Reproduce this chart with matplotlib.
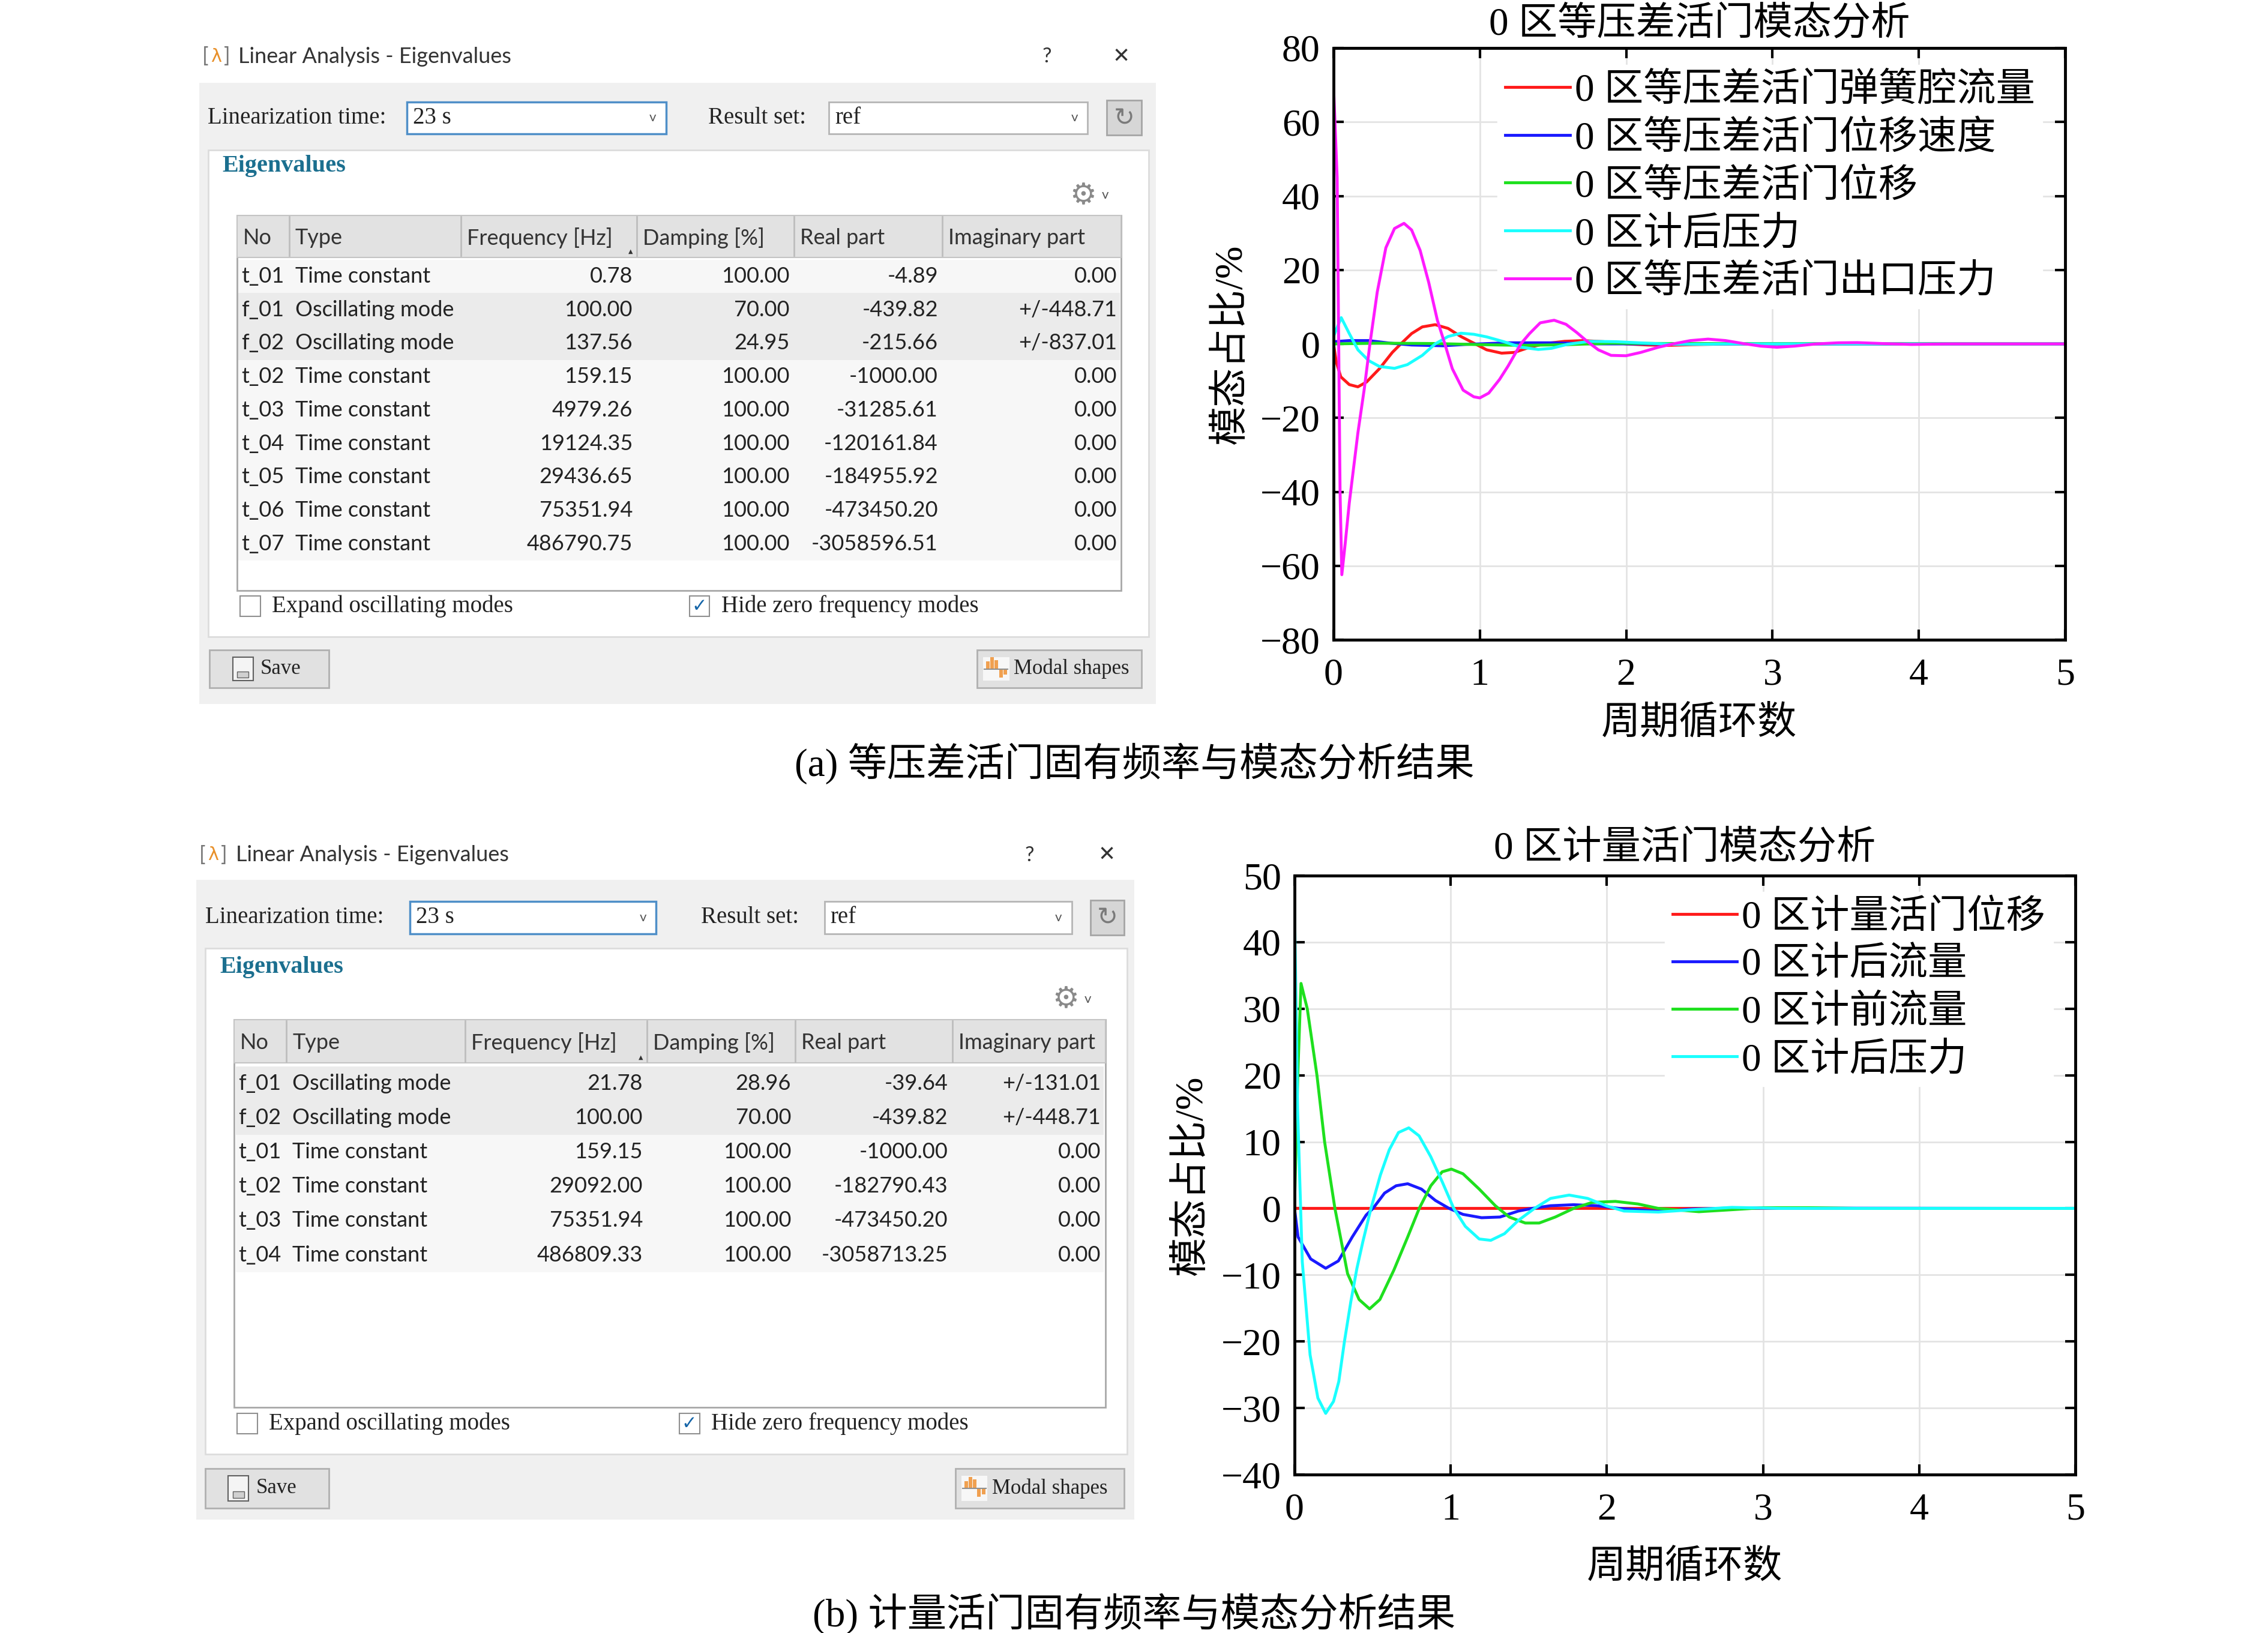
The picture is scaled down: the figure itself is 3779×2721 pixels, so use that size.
import matplotlib
matplotlib.use('Agg')
import matplotlib.pyplot as plt
from matplotlib.patches import Rectangle

plt.rcParams['font.family'] = ['Liberation Serif', 'Noto Sans CJK SC']
plt.rcParams['axes.unicode_minus'] = True

UI = ['Lato', 'DejaVu Sans']
UI_SERIF = ['Liberation Serif', 'DejaVu Serif']
SYM = ['DejaVu Sans']

# ---------------- eigenvalue tables (dialog screenshots) ----------------
table_header = ['No', 'Type', 'Frequency [Hz]', 'Damping [%]', 'Real part', 'Imaginary part']

rows_a = [
    ['t_01', 'Time constant', '0.78', '100.00', '-4.89', '0.00'],
    ['f_01', 'Oscillating mode', '100.00', '70.00', '-439.82', '+/-448.71'],
    ['f_02', 'Oscillating mode', '137.56', '24.95', '-215.66', '+/-837.01'],
    ['t_02', 'Time constant', '159.15', '100.00', '-1000.00', '0.00'],
    ['t_03', 'Time constant', '4979.26', '100.00', '-31285.61', '0.00'],
    ['t_04', 'Time constant', '19124.35', '100.00', '-120161.84', '0.00'],
    ['t_05', 'Time constant', '29436.65', '100.00', '-184955.92', '0.00'],
    ['t_06', 'Time constant', '75351.94', '100.00', '-473450.20', '0.00'],
    ['t_07', 'Time constant', '486790.75', '100.00', '-3058596.51', '0.00'],
]

rows_b = [
    ['f_01', 'Oscillating mode', '21.78', '28.96', '-39.64', '+/-131.01'],
    ['f_02', 'Oscillating mode', '100.00', '70.00', '-439.82', '+/-448.71'],
    ['t_01', 'Time constant', '159.15', '100.00', '-1000.00', '0.00'],
    ['t_02', 'Time constant', '29092.00', '100.00', '-182790.43', '0.00'],
    ['t_03', 'Time constant', '75351.94', '100.00', '-473450.20', '0.00'],
    ['t_04', 'Time constant', '486809.33', '100.00', '-3058713.25', '0.00'],
]

# ---------------- modal participation curves ----------------
# (a) 等压差活门
a_spring_flow_x = [0.0, 0.02, 0.05, 0.108, 0.167, 0.226, 0.314, 0.402, 0.46, 0.534, 0.607, 0.695,
                   0.783, 0.871, 0.959, 1.047, 1.149, 1.237, 1.34, 1.45, 1.58, 1.707, 1.85, 2.0,
                   2.15, 2.28, 2.45, 2.7, 5.0]
a_spring_flow_y = [0.0, -5.0, -8.9, -11.0, -11.6, -10.3, -6.7, -2.3, 0.0, 2.8, 4.6, 5.2,
                   4.2, 2.0, 0.2, -1.6, -2.5, -2.3, -0.9, 0.1, 0.7, 0.9, 0.6, 0.0,
                   -0.3, -0.4, -0.2, 0.0, 0.0]

a_velocity_x = [0.0, 0.108, 0.24, 0.387, 0.534, 0.75, 0.9, 1.19, 1.49, 1.8, 5.0]
a_velocity_y = [0.6, 0.9, 0.9, 0.2, -0.3, -0.5, -0.15, 0.3, 0.3, 0.0, 0.0]

a_disp_x = [0.0, 0.3, 0.7, 1.0, 1.3, 1.6, 1.9, 2.3, 5.0]
a_disp_y = [0.0, 0.2, 0.1, -0.2, -0.4, -0.2, 0.2, 0.1, 0.0]

a_back_press_x = [0.0, 0.053, 0.108, 0.167, 0.24, 0.314, 0.417, 0.505, 0.607, 0.695, 0.783, 0.871,
                  0.959, 1.047, 1.164, 1.28, 1.4, 1.49, 1.6, 1.75, 1.93, 2.14, 2.32, 2.5, 2.7, 5.0]
a_back_press_y = [2.0, 7.1, 2.8, -1.6, -4.5, -6.1, -6.6, -5.6, -3.1, 0.0, 2.0, 2.9,
                  2.6, 1.9, 0.6, -0.9, -1.5, -1.2, -0.1, 0.7, 0.6, 0.2, -0.1, -0.1, 0.0, 0.0]

a_outlet_press_x = [0.0, 0.025, 0.045, 0.057, 0.08, 0.108, 0.167, 0.211, 0.249, 0.299, 0.358, 0.417,
                    0.482, 0.534, 0.592, 0.651, 0.71, 0.761, 0.812, 0.886, 0.959, 1.0, 1.061, 1.135,
                    1.193, 1.28, 1.34, 1.413, 1.508, 1.589, 1.662, 1.736, 1.81, 1.897, 2.0, 2.1,
                    2.22, 2.32, 2.44, 2.56, 2.68, 2.80, 2.92, 3.03, 3.15, 3.30, 3.45, 3.58, 3.75,
                    3.95, 4.20, 5.0]
a_outlet_press_y = [70.0, 45.0, -40.0, -62.4, -54.0, -43.0, -24.0, -12.0, 0.0, 14.0, 26.0, 31.2,
                    32.6, 30.8, 25.3, 16.6, 6.4, 0.0, -6.7, -12.5, -14.3, -14.6, -13.3, -9.6,
                    -6.0, 0.0, 2.8, 5.7, 6.4, 5.3, 3.1, 0.6, -1.6, -3.1, -3.2, -2.3,
                    -0.9, 0.0, 0.9, 1.3, 0.9, 0.1, -0.6, -0.9, -0.6, 0.0, 0.3, 0.35, 0.1,
                    -0.15, 0.0, 0.0]

a_labels = ['0 区等压差活门弹簧腔流量', '0 区等压差活门位移速度', '0 区等压差活门位移',
            '0 区计后压力', '0 区等压差活门出口压力']

# (b) 计量活门
b_disp_x = [0.0, 5.0]
b_disp_y = [0.0, 0.0]

b_back_flow_x = [0.0, 0.023, 0.104, 0.2, 0.281, 0.37, 0.459, 0.503, 0.577, 0.651, 0.725, 0.813,
                 0.902, 0.99, 1.079, 1.198, 1.316, 1.434, 1.522, 1.64, 1.788, 1.936, 2.08, 2.33,
                 2.55, 2.8, 5.0]
b_back_flow_y = [0.0, -4.3, -7.6, -9.0, -7.9, -4.3, -1.0, 0.0, 2.3, 3.4, 3.7, 2.9,
                 1.2, 0.0, -0.9, -1.4, -1.3, -0.4, 0.0, 0.4, 0.55, 0.4, 0.0, -0.45,
                 -0.1, 0.05, 0.0]

b_front_flow_x = [0.0, 0.022, 0.042, 0.082, 0.144, 0.193, 0.259, 0.34, 0.414, 0.481, 0.547, 0.636,
                  0.725, 0.799, 0.873, 0.946, 1.005, 1.079, 1.183, 1.286, 1.375, 1.478, 1.567,
                  1.67, 1.788, 1.906, 2.055, 2.2, 2.33, 2.59, 2.8, 3.0, 3.3, 3.6, 5.0]
b_front_flow_y = [0.0, 20.5, 33.8, 30.0, 20.0, 10.0, 0.0, -9.8, -13.7, -15.1, -13.7, -9.3,
                  -4.3, 0.0, 3.4, 5.5, 5.9, 5.2, 2.9, 0.4, -1.3, -2.2, -2.2,
                  -1.3, 0.0, 0.9, 1.05, 0.66, 0.0, -0.5, -0.2, 0.1, 0.1, 0.0, 0.0]

b_back_press_x = [0.0, 0.02, 0.05, 0.10, 0.15, 0.20, 0.25, 0.284, 0.32, 0.361, 0.40, 0.438, 0.49,
                  0.55, 0.607, 0.666, 0.732, 0.798, 0.872, 0.946, 1.02, 1.094, 1.183, 1.257,
                  1.345, 1.434, 1.537, 1.64, 1.759, 1.877, 1.995, 2.11, 2.33, 2.55, 2.8, 3.1, 5.0]
b_back_press_y = [46.0, 15.0, -8.0, -22.0, -28.5, -30.8, -29.0, -26.0, -20.0, -14.0, -9.0, -5.0, 0.0,
                  5.0, 8.8, 11.4, 12.1, 10.9, 7.8, 4.0, 0.0, -2.7, -4.6, -4.8,
                  -3.8, -1.8, 0.0, 1.5, 2.0, 1.5, 0.4, -0.4, -0.55, -0.2, 0.15, 0.0, 0.0]

b_labels = ['0 区计量活门位移', '0 区计后流量', '0 区计前流量', '0 区计后压力']

x_ticks = [0, 1, 2, 3, 4, 5]
a_yticks = [-80, -60, -40, -20, 0, 20, 40, 60, 80]
b_yticks = [-40, -30, -20, -10, 0, 10, 20, 30, 40, 50]

# dialog layouts, in screen units of a 1560 x 1123 canvas
dlg_a = dict(left=137, right=795, title_y=39, help_x=720, close_x=771, body=(57, 484),
             combo_y=81, lin_combo=(280, 458), res_x=487, res_combo=(570, 748), refresh=(761, 785),
             panel=(143, 103, 790, 438), eig_y=114, gear=(745, 134),
             cols=[163, 199, 317, 438, 546, 648, 771], table_y=(148, 406), header_h=29,
             row0=190, row_step=23, check_y=417, check1_x=165, check2_x=474,
             btn_y=(447, 473), save_btn=(144, 226), modal_btn=(672, 785))
dlg_b = dict(left=135, right=780, title_y=588, help_x=708, close_x=761, body=(605, 1045),
             combo_y=631, lin_combo=(282, 451), res_x=482, res_combo=(567, 737), refresh=(750, 773),
             panel=(141, 652, 775, 1000), eig_y=665, gear=(733, 687),
             cols=[161, 197, 320, 445, 547, 655, 760], table_y=(701, 968), header_h=30,
             row0=745, row_step=23.6, check_y=979, check1_x=163, check2_x=467,
             btn_y=(1010, 1037), save_btn=(141, 226), modal_btn=(657, 773))

TS = 26      # table text size
LS = 28      # serif label size
BS = 25      # button label size


def rect(ax, x0, y0, x1, y1, fc, ec='none', lw=1.0, z=1):
    p = Rectangle((x0, y0), x1 - x0, y1 - y0, facecolor=fc, edgecolor=ec, linewidth=lw, zorder=z)
    ax.add_patch(p)
    return p


def draw_dialog(ax, g, rows):
    L, R = g['left'], g['right']
    ty = g['title_y']
    ax.text(L + 2, ty, '[', color='#777777', fontsize=25, family=UI, va='center')
    ax.text(L + 8, ty, 'λ', color='#e8902a', fontsize=22, family=SYM, va='center')
    ax.text(L + 17, ty, ']', color='#777777', fontsize=25, family=UI, va='center')
    ax.text(L + 27, ty, 'Linear Analysis - Eigenvalues', color='#333333', fontsize=26,
            family=UI, va='center')
    ax.text(g['help_x'], ty, '?', color='#333333', fontsize=25, family=UI, ha='center', va='center')
    ax.text(g['close_x'], ty, '✕', color='#333333', fontsize=25, family=SYM, ha='center', va='center')

    rect(ax, L, g['body'][0], R, g['body'][1], '#f0f0f0', z=0.5)

    # combo row
    cy = g['combo_y']
    ax.text(L + 6, cy, 'Linearization time:', family=UI_SERIF, fontsize=LS, va='center', color='#222222')
    c0, c1 = g['lin_combo']
    rect(ax, c0, cy - 11, c1, cy + 11, 'white', '#4f8fc8', 2.5)
    ax.text(c0 + 4, cy, '23 s', family=UI_SERIF, fontsize=LS, va='center', color='#222222')
    ax.text(c1 - 9, cy, 'v', family=UI, fontsize=16, va='center', ha='center', color='#555555')
    ax.text(g['res_x'], cy, 'Result set:', family=UI_SERIF, fontsize=LS, va='center', color='#222222')
    r0, r1 = g['res_combo']
    rect(ax, r0, cy - 11, r1, cy + 11, 'white', '#b5b5b5', 2)
    ax.text(r0 + 4, cy, 'ref', family=UI_SERIF, fontsize=LS, va='center', color='#222222')
    ax.text(r1 - 9, cy, 'v', family=UI, fontsize=16, va='center', ha='center', color='#555555')
    f0, f1 = g['refresh']
    rect(ax, f0, cy - 12, f1, cy + 12, '#d6d6d6', '#a5a5a5', 2)
    ax.text((f0 + f1) / 2, cy, '↻', family=SYM, fontsize=30, color='#7a7a7a', ha='center', va='center')

    # white group panel
    px0, py0, px1, py1 = g['panel']
    rect(ax, px0, py0, px1, py1, 'white', '#dcdcdc', 2)
    ax.text(px0 + 10, g['eig_y'], 'Eigenvalues', family=UI_SERIF, weight='bold', color='#1b6f8f',
            fontsize=29, va='center')
    gx, gy = g['gear']
    ax.text(gx, gy, '⚙', family=SYM, fontsize=36, color='#8a8a8a', ha='center', va='center')
    ax.text(gx + 15, gy, 'v', family=UI, fontsize=16, color='#555555', ha='center', va='center')

    # table
    cx = g['cols']
    t0, t1 = g['table_y']
    hb = t0 + g['header_h']
    step = g['row_step']
    rect(ax, cx[0], t0, cx[-1], t1, 'white', '#a8a8a8', 2, z=1)
    rect(ax, cx[0], t0, cx[-1], hb, '#e2e2e2', '#c4c4c4', 1.5, z=1.1)
    for x in cx[1:-1]:
        ax.plot([x, x], [t0 + 1, hb - 1], color='#bdbdbd', lw=2, zorder=1.2)
    clip = Rectangle((cx[0], t0), cx[-1] - cx[0], t1 - t0, transform=ax.transData)
    mid = (t0 + hb) / 2 + 1
    for i, name in enumerate(table_header):
        t = ax.text(cx[i] + 4, mid, name, family=UI, fontsize=TS, va='center', color='#333333',
                    zorder=2, clip_on=True)
        t.set_clip_path(clip)
    ax.text(cx[3] - 3, hb - 4, '▲', family=SYM, fontsize=7, ha='right', va='center', color='#333333')
    for k, row in enumerate(rows):
        yc = g['row0'] + k * step
        shade = '#ebebeb' if row[1].startswith('Osc') else '#f7f7f7'
        rect(ax, cx[0] + 1, yc - step / 2, cx[-1] - 1, yc + step / 2, shade, z=1.1)
        ax.text(cx[0] + 3, yc, row[0], family=UI, fontsize=TS, va='center', color='#222222', zorder=2)
        ax.text(cx[1] + 4, yc, row[1], family=UI, fontsize=TS, va='center', color='#222222', zorder=2)
        for j in range(2, 6):
            ax.text(cx[j + 1] - 3, yc, row[j], family=UI, fontsize=TS, va='center', ha='right',
                    color='#222222', zorder=2)

    # check boxes
    ck = g['check_y']
    for bx, label, checked in [(g['check1_x'], 'Expand oscillating modes', False),
                               (g['check2_x'], 'Hide zero frequency modes', True)]:
        rect(ax, bx, ck - 7, bx + 14, ck + 7, 'white', '#8f8f8f', 1.5, z=2)
        if checked:
            ax.text(bx + 7, ck, '✓', family=SYM, fontsize=22, color='#1565a8', ha='center',
                    va='center', zorder=3)
        ax.text(bx + 22, ck, label, family=UI_SERIF, fontsize=LS, va='center', color='#222222')

    # buttons
    b0, b1 = g['btn_y']
    bm = (b0 + b1) / 2
    s0, s1 = g['save_btn']
    rect(ax, s0, b0, s1, b1, '#e1e1e1', '#b0b0b0', 2)
    rect(ax, s0 + 16, b0 + 5, s0 + 30, b1 - 5, '#f4f4f4', '#606060', 1.5, z=2)
    rect(ax, s0 + 19, bm + 2, s0 + 27, b1 - 7, '#d0d0d0', '#606060', 1.0, z=3)
    ax.text(s0 + 35, bm, 'Save', family=UI_SERIF, fontsize=BS, va='center', color='#222222')
    m0, m1 = g['modal_btn']
    rect(ax, m0, b0, m1, b1, '#e1e1e1', '#b0b0b0', 2)
    rect(ax, m0 + 4, b0 + 5, m0 + 22, b1 - 5, '#f7f7f7', z=2)
    for dx, hh in [(6, 5), (9, 8), (12, 6), (15, -6), (18, -4)]:
        top, bot = (bm - hh, bm) if hh > 0 else (bm, bm - hh)
        rect(ax, m0 + dx, top, m0 + dx + 2.5, bot, '#f0a050', z=3)
    ax.plot([m0 + 5, m0 + 21], [bm, bm], color='#909090', lw=1.5, zorder=4)
    ax.text(m0 + 25, bm, 'Modal shapes', family=UI_SERIF, fontsize=BS, va='center', color='#222222')


def style_axes(ax, yticks):
    ax.set_xlim(x_ticks[0], x_ticks[-1])
    ax.set_ylim(yticks[0], yticks[-1])
    ax.set_xticks(x_ticks)
    ax.set_yticks(yticks)
    ax.grid(True, color='#e3e3e3', linewidth=2)
    ax.set_axisbelow(True)
    ax.tick_params(direction='in', top=True, right=True, length=12, width=3, labelsize=46, pad=16)
    ax.tick_params(axis='x', pad=22)
    for sp in ax.spines.values():
        sp.set_linewidth(3.5)


fig = plt.figure(figsize=(37.8, 27.21), dpi=100)

bg = fig.add_axes([0, 0, 1, 1], zorder=-1)
bg.set_xlim(0, 1560)
bg.set_ylim(1123, 0)
bg.axis('off')
draw_dialog(bg, dlg_a, rows_a)
draw_dialog(bg, dlg_b, rows_b)

LW = 3.5
leg_kw = dict(loc='upper left', fontsize=47, handlelength=1.65, handletextpad=0.12,
              labelspacing=0.29, borderpad=0.2, borderaxespad=0, fancybox=False,
              framealpha=1, edgecolor='white')

# ---- (a) chart ----
ax1 = fig.add_axes([0.5878, 0.6082, 0.3225, 0.3624])
a_series = [(a_spring_flow_x, a_spring_flow_y, '#ff1a1a'),
            (a_velocity_x, a_velocity_y, '#1a1aff'),
            (a_disp_x, a_disp_y, '#1ee01e'),
            (a_back_press_x, a_back_press_y, '#1affff'),
            (a_outlet_press_x, a_outlet_press_y, '#ff1aff')]
for (xs, ys, c), lab in zip(a_series, a_labels):
    ax1.plot(xs, ys, color=c, lw=LW, label=lab, solid_joinstyle='round')
style_axes(ax1, a_yticks)
ax1.set_title('0 区等压差活门模态分析', fontsize=47, pad=16)
ax1.set_xlabel('周期循环数', fontsize=47)
ax1.set_ylabel('模态占比/%', fontsize=47)
ax1.xaxis.set_label_coords(0.5, -0.111)
ax1.yaxis.set_label_coords(-0.115, 0.5)
ax1.legend(bbox_to_anchor=(0.224, 0.972), **leg_kw)

# ---- (b) chart ----
ax2 = fig.add_axes([0.5706, 0.0970, 0.3442, 0.3668])
b_series = [(b_disp_x, b_disp_y, '#ff1a1a'),
            (b_back_flow_x, b_back_flow_y, '#1a1aff'),
            (b_front_flow_x, b_front_flow_y, '#1ee01e'),
            (b_back_press_x, b_back_press_y, '#1affff')]
for (xs, ys, c), lab in zip(b_series, b_labels):
    ax2.plot(xs, ys, color=c, lw=LW, label=lab, solid_joinstyle='round')
style_axes(ax2, b_yticks)
ax2.set_title('0 区计量活门模态分析', fontsize=47, pad=20)
ax2.set_xlabel('周期循环数', fontsize=47)
ax2.set_ylabel('模态占比/%', fontsize=47)
ax2.xaxis.set_label_coords(0.5, -0.125)
ax2.yaxis.set_label_coords(-0.108, 0.5)
ax2.legend(bbox_to_anchor=(0.474, 0.973), **leg_kw)

fig.text(0.5, 0.5325, '(a) 等压差活门固有频率与模态分析结果', fontsize=47, ha='center', va='center')
fig.text(0.5, 0.0115, '(b) 计量活门固有频率与模态分析结果', fontsize=47, ha='center', va='center')

fig.savefig('out.png', dpi=100, facecolor='white')
